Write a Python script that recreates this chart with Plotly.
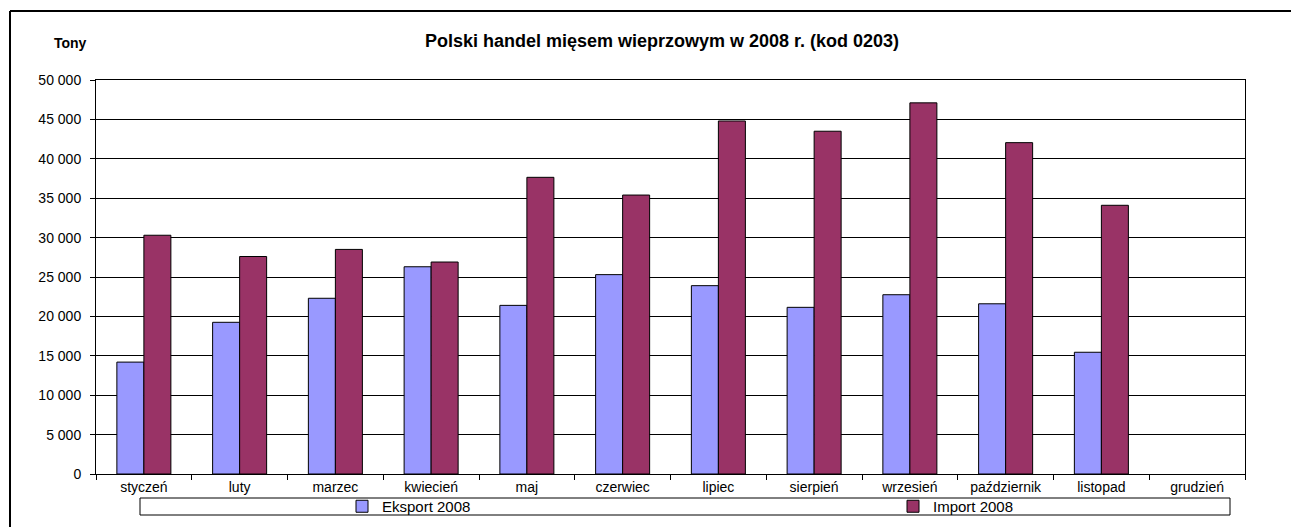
import plotly.graph_objects as go

months = ["styczeń", "luty", "marzec", "kwiecień", "maj", "czerwiec", "lipiec",
          "sierpień", "wrzesień", "październik", "listopad", "grudzień"]
eksport = [14200, 19250, 22300, 26300, 21400, 25300, 23900, 21150, 22750, 21600, 15450, None]
importv = [30300, 27600, 28500, 26900, 37650, 35400, 44800, 43500, 47100, 42050, 34100, None]

# the page has an 8px body margin; positions below are page pixels
OFF = 8
W, H = 1299 - OFF, 527 - OFF
PL, PR, PT, PB = 96, 1245, 80, 474  # plot area, page pixels


def px(x):
    return (x - PL) / (PR - PL)


def py(y):
    return (PB - y) / (PB - PT)


FONT = "Liberation Sans, Arial, sans-serif"

fig = go.Figure()
fig.add_trace(go.Bar(x=months, y=eksport, name="Eksport 2008",
                     marker=dict(color="#9999FF", line=dict(color="#000000", width=1)),
                     legend="legend"))
fig.add_trace(go.Bar(x=months, y=importv, name="Import 2008",
                     marker=dict(color="#993366", line=dict(color="#000000", width=1)),
                     legend="legend2"))

fig.update_layout(
    width=W, height=H,
    margin=dict(l=PL - OFF, r=1299 - PR, t=PT - OFF, b=527 - PB, autoexpand=False),
    paper_bgcolor="white", plot_bgcolor="white",
    barmode="group", bargap=0.436, bargroupgap=0,
    separators=". ",
    font=dict(family=FONT, size=14, color="#000000"),
    title=dict(text="<b>Polski handel mięsem wieprzowym w 2008 r. (kod 0203)</b>",
               x=px(662), xref="paper", xanchor="center",
               y=1 - (41 - OFF) / H, yref="container", yanchor="middle",
               font=dict(family=FONT, size=18, color="#000000")),
    xaxis=dict(showline=True, linecolor="#000000", linewidth=1, mirror=True,
               ticks="outside", ticklen=5, tickcolor="#000000", tickson="boundaries",
               showgrid=False, tickfont=dict(size=14), automargin=False),
    yaxis=dict(range=[0, 50000], dtick=5000, tickformat=",d",
               showline=True, linecolor="#000000", linewidth=1, mirror=True,
               ticks="outside", ticklen=5, tickcolor="#000000",
               showgrid=True, gridcolor="#000000", gridwidth=1,
               ticklabelstandoff=6, tickfont=dict(size=14), automargin=False),
    legend=dict(orientation="h", x=px(342), xanchor="left", y=py(506.5), yanchor="middle",
                bgcolor="rgba(0,0,0,0)", font=dict(size=15)),
    legend2=dict(orientation="h", x=px(893), xanchor="left", y=py(506.5), yanchor="middle",
                 bgcolor="rgba(0,0,0,0)", font=dict(size=15)),
    showlegend=True,
)

shapes = [
    # legend box
    dict(type="rect", xref="paper", yref="paper", x0=px(140), x1=px(1230), y0=py(515), y1=py(498),
         line=dict(color="#000000", width=1), fillcolor="rgba(0,0,0,0)", layer="below"),
    # outer frame (top and left edges)
    dict(type="line", xref="paper", yref="paper", x0=px(10), x1=px(1320), y0=py(11), y1=py(11),
         line=dict(color="#000000", width=2)),
    dict(type="line", xref="paper", yref="paper", x0=px(10), x1=px(10), y0=py(11), y1=py(560),
         line=dict(color="#000000", width=2)),
]
fig.update_layout(shapes=shapes)

fig.add_annotation(text="<b>Tony</b>", xref="paper", yref="paper", x=px(70), y=py(43),
                   xanchor="center", yanchor="middle", showarrow=False,
                   font=dict(family=FONT, size=14, color="#000000"))

fig.write_html("out.html")
